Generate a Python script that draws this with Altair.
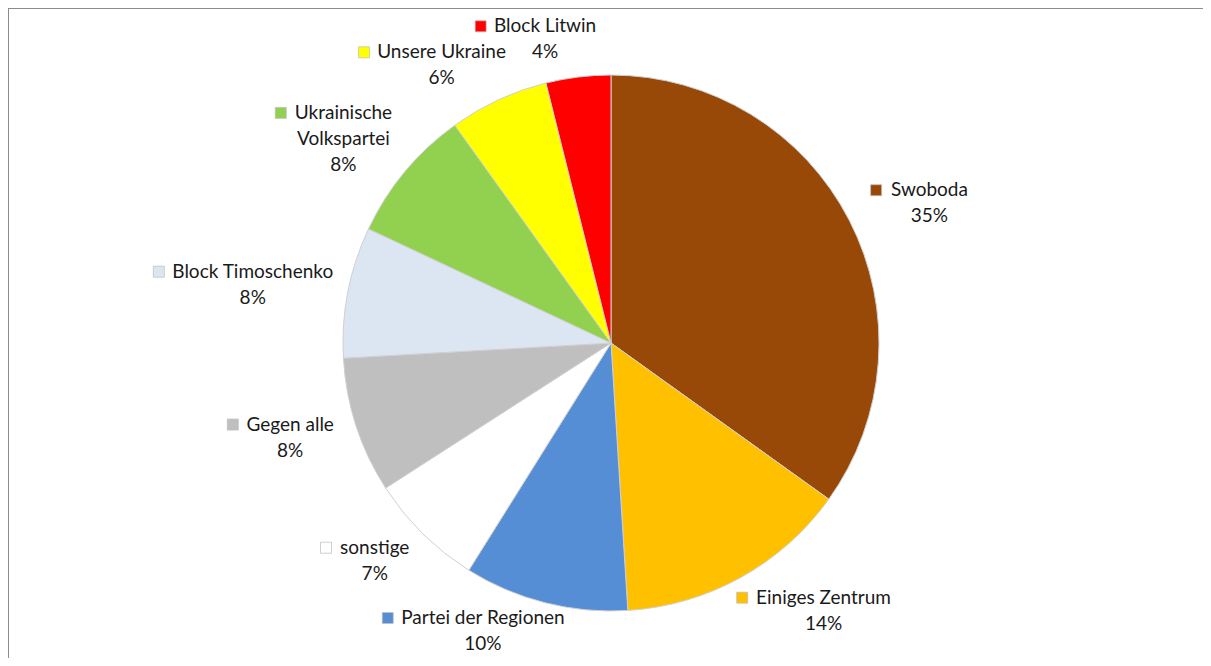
import altair as alt
import pandas as pd

parties = ["Swoboda", "Einiges Zentrum", "Partei der Regionen", "sonstige", "Gegen alle",
           "Block Timoschenko", "Ukrainische Volkspartei", "Unsere Ukraine", "Block Litwin"]
shares = [34.9, 14.1, 9.9, 7.0, 8.2, 7.9, 8.1, 6.0, 3.9]
colors = ["#984807", "#FFC000", "#558ED5", "#FFFFFF", "#BFBFBF",
          "#DCE6F2", "#92D050", "#FFFF00", "#FF0000"]
label_lines = [["Swoboda"], ["Einiges Zentrum"], ["Partei der Regionen"], ["sonstige"],
               ["Gegen alle"], ["Block Timoschenko"], ["Ukrainische", "Volkspartei"],
               ["Unsere Ukraine"], ["Block Litwin"]]

FS = 19
# approximate advance widths (em) of the Lato font, used only to measure label text
EM = {"a": .51, "b": .56, "c": .46, "d": .56, "e": .52, "g": .50, "h": .56, "i": .24,
      "k": .49, "l": .24, "m": .84, "n": .56, "o": .56, "p": .56, "r": .36, "s": .41,
      "t": .35, "u": .56, "v": .50, "w": .78, " ": .19, "B": .62, "E": .55, "G": .66,
      "L": .47, "P": .58, "R": .60, "S": .50, "T": .55, "U": .67, "V": .63, "Z": .58}


def text_width(s):
    return sum(EM.get(ch, .55) for ch in s) * FS


df = pd.DataFrame({
    "party": parties,
    "share": shares,
    "order": list(range(len(parties))),
    "label": ["\n".join(l + [f"{round(s)}%"]) for l, s in zip(label_lines, shares)],
    "w1": [text_width(l[0]) for l in label_lines],
    "wmax": [max(text_width(x) for x in l) for l in label_lines],
    "nlines": [len(l) + 1 for l in label_lines],
})

CX, CY, R = 603, 335, 268
LH = 26
FONT = "Lato"
H = 650

color_scale = alt.Scale(domain=parties, range=colors)

base = alt.Chart(df).transform_joinaggregate(
    total="sum(share)"
).transform_window(
    cum="sum(share)", sort=[alt.SortField("order")], frame=[None, 0]
).transform_calculate(
    mid="2*PI*(datum.cum - datum.share/2)/datum.total",
).transform_calculate(
    lx=f"{CX + 10} + 314*sin(datum.mid) + 0.38*datum.wmax*(sin(datum.mid) < 0 ? -1 : 1)",
    ly=f"{CY} - (280 + datum.nlines*{LH}/2)*cos(datum.mid)",
).transform_calculate(
    ty=f"min(datum.ly - (datum.nlines-1)*{LH}/2, {H - 40})",
    sqx="datum.lx - datum.w1/2 - 15",
)

arc = alt.Chart(df).mark_arc(radius=R, stroke="#d0d0d0", strokeWidth=1).encode(
    theta=alt.Theta("share:Q", stack=True),
    order=alt.Order("order:Q"),
    color=alt.Color("party:N", scale=color_scale, legend=None),
    x=alt.value(CX),
    y=alt.value(CY),
)

text = base.mark_text(
    lineBreak="\n", lineHeight=LH, fontSize=FS, font=FONT, color="#1a1a1a",
    align="center", baseline="middle"
).encode(
    x=alt.X("lx:Q", scale=None, axis=None),
    y=alt.Y("ty:Q", scale=None, axis=None),
    text="label:N",
)

squares = base.mark_square(size=121, filled=True, opacity=1, stroke="#bfbfbf", strokeWidth=0.75).encode(
    x=alt.X("sqx:Q", scale=None, axis=None),
    y=alt.Y("ty:Q", scale=None, axis=None),
    color=alt.Color("party:N", scale=color_scale, legend=None),
)

one = pd.DataFrame({"a": [0]})
top_line = alt.Chart(one).mark_rule(color="#8c8c8c", strokeWidth=2).encode(
    x=alt.value(0), x2=alt.value(1195), y=alt.value(0)
)
left_line = alt.Chart(one).mark_rule(color="#8c8c8c", strokeWidth=2).encode(
    x=alt.value(0), y=alt.value(0), y2=alt.value(H)
)

chart = alt.layer(top_line, left_line, arc, text, squares).properties(
    width=1195, height=H, padding=0, autosize="none"
).configure_view(strokeWidth=0)

chart.save("out.html", embed_options={"renderer": "svg", "actions": False})
